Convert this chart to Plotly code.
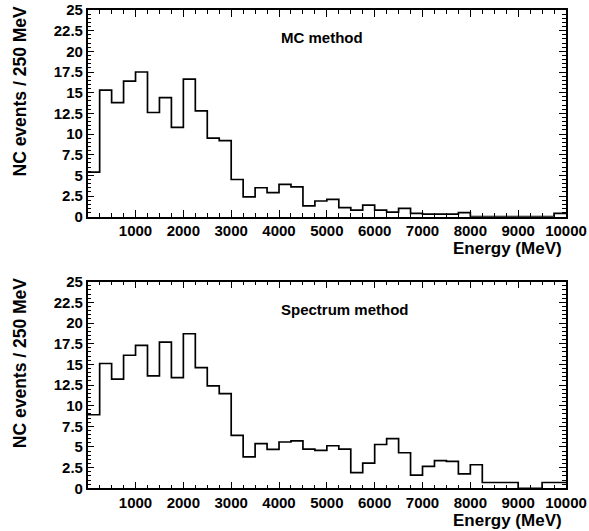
import plotly.graph_objects as go

bin_width = 250
bin_edges = [i * bin_width for i in range(41)]

mc_values = [5.4, 15.3, 13.8, 16.4, 17.5, 12.6, 14.4, 10.8, 16.65, 12.8,
             9.5, 9.2, 4.5, 2.4, 3.5, 2.9, 3.9, 3.6, 1.3, 1.9,
             2.1, 1.1, 0.8, 1.4, 0.8, 0.55, 1.0, 0.4, 0.3, 0.3,
             0.3, 0.5, 0.0, 0.0, 0.0, 0.0, 0.0, 0.0, 0.0, 0.4]

spec_values = [8.9, 15.1, 13.2, 16.1, 17.3, 13.6, 17.7, 13.4, 18.7, 14.6,
               12.4, 11.45, 6.4, 3.8, 5.4, 4.7, 5.6, 5.75, 4.75, 4.6,
               5.15, 4.75, 1.9, 3.05, 5.3, 6.0, 4.3, 1.6, 2.65, 3.35,
               3.25, 1.75, 2.85, 0.7, 0.7, 0.7, 0.0, 0.0, 0.7, 0.7]

x_tick_vals = [1000, 2000, 3000, 4000, 5000, 6000, 7000, 8000, 9000, 10000]
x_tick_text = ["1000", "2000", "3000", "4000", "5000", "6000", "7000", "8000", "9000", "10000"]
y_tick_vals = [0, 2.5, 5, 7.5, 10, 12.5, 15, 17.5, 20, 22.5, 25]
y_tick_text = ["0", "2.5", "5", "7.5", "10", "12.5", "15", "17.5", "20", "22.5", "25"]

panel_labels = ["MC method", "Spectrum method"]
y_title = "NC events / 250 MeV"
x_title = "Energy (MeV)"

W, H = 589, 531
FONT = "Liberation Sans"

fig = go.Figure()

def px_x(p):
    return p / W

def px_y(p):
    return 1 - p / H

panels = [
    dict(values=mc_values, top=10, bottom=216.7, xa="x", ya="y", xname="xaxis", yname="yaxis", xt=32),
    dict(values=spec_values, top=281.7, bottom=488.3, xa="x2", ya="y2", xname="xaxis2", yname="yaxis2", xt=32),
]

x_dom = [px_x(87.7), px_x(566)]

for i, p in enumerate(panels):
    vals = p["values"]
    fig.add_trace(go.Scatter(
        x=bin_edges, y=vals + [vals[-1]],
        mode="lines", line=dict(color="black", width=1.7, shape="hv"),
        xaxis=p["xa"], yaxis=p["ya"], showlegend=False, hoverinfo="skip",
    ))
    axis_common = dict(
        showgrid=False, zeroline=False, showline=True, linecolor="black", linewidth=1.5,
        mirror="allticks", ticks="inside", tickcolor="black", tickwidth=1.2,
        automargin=False,
        tickfont=dict(family=FONT, size=15, color="black", weight="bold"),
    )
    fig.layout[p["xname"]] = dict(
        domain=x_dom, range=[0, 10000], anchor=p["ya"],
        tickvals=x_tick_vals, ticktext=x_tick_text, ticklen=7,
        minor=dict(dtick=250, ticklen=4, tickcolor="black", tickwidth=1.2, ticks="inside"),
        **axis_common,
    )
    fig.layout[p["yname"]] = dict(
        domain=[px_y(p["bottom"]), px_y(p["top"])], range=[0, 25], anchor=p["xa"],
        tickvals=y_tick_vals, ticktext=y_tick_text, ticklen=7,
        minor=dict(dtick=0.5, ticklen=4, tickcolor="black", tickwidth=1.2, ticks="inside"),
        **axis_common,
    )
    # panel label
    fig.add_annotation(
        xref="paper", yref="paper", x=px_x(279), y=px_y(p["top"] + 28),
        xanchor="left", yanchor="middle", showarrow=False,
        text=panel_labels[i], font=dict(family=FONT, size=15, color="black", weight="bold"),
    )
    # y axis title
    fig.add_annotation(
        xref="paper", yref="paper", x=px_x(20), y=px_y(p["top"] - 6),
        xanchor="center", yanchor="top", showarrow=False, textangle=-90,
        text=y_title, font=dict(family=FONT, size=17.5, color="black", weight="bold"),
    )
    # x axis title
    fig.add_annotation(
        xref="paper", yref="paper", x=px_x(564), y=px_y(p["bottom"] + p["xt"]),
        xanchor="right", yanchor="middle", showarrow=False,
        text=x_title, font=dict(family=FONT, size=17, color="black", weight="bold"),
    )

fig.update_layout(
    width=W, height=H, margin=dict(l=0, r=0, t=0, b=0),
    paper_bgcolor="white", plot_bgcolor="white",
)

fig.write_html("out.html")
